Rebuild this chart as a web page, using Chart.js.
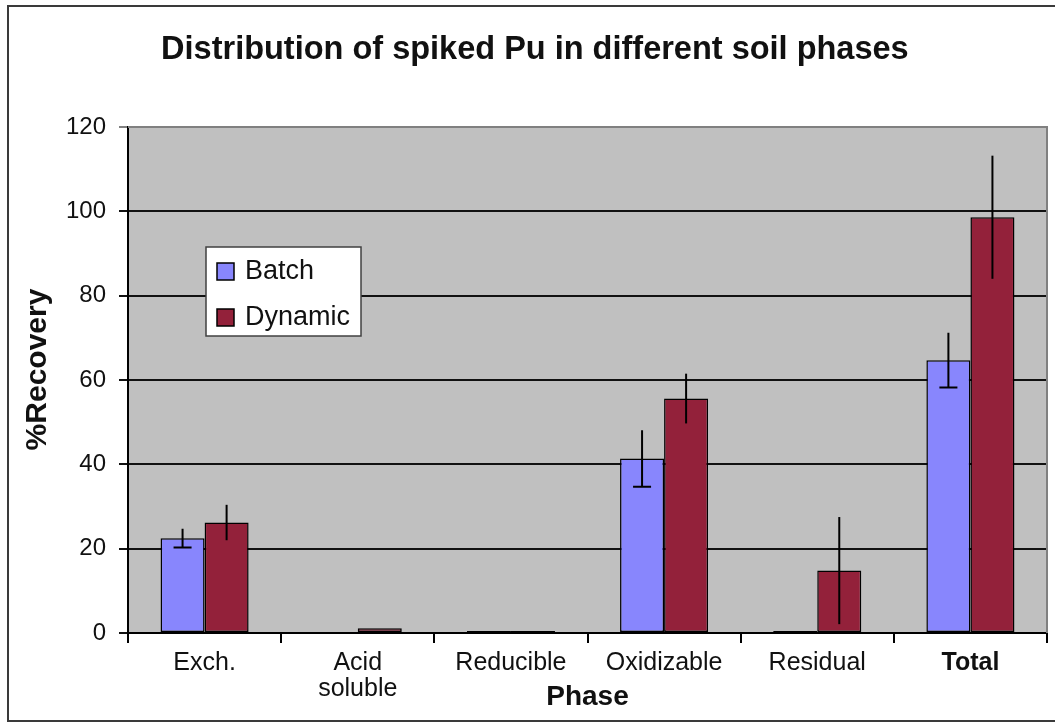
<!DOCTYPE html>
<html>
<head>
<meta charset="utf-8">
<script src="https://cdn.jsdelivr.net/npm/chart.js@4.4.1/dist/chart.umd.min.js"></script>
<style>
  html, body { margin: 0; padding: 0; background: #ffffff; }
  #wrap { width: 1055px; height: 724px; position: relative; }
</style>
</head>
<body>
<div id="wrap"><canvas id="c" width="1055" height="724"></canvas></div>
<script>
// ---- data ----
const categories = ['Exch.', ['Acid', 'soluble'], 'Reducible', 'Oxidizable', 'Residual', 'Total'];
const seriesNames = ['Batch', 'Dynamic'];
const batchValues = [22.5, 0, 0.5, 41.4, 0.5, 64.7];
const dynamicValues = [26.2, 1.1, 0.5, 55.6, 14.8, 98.6];
const batchErrors = [2.2, 0, 0, 6.7, 0, 6.5];
const dynamicErrors = [4.2, 0, 0, 5.9, 12.7, 14.6];
const yTicks = [0, 20, 40, 60, 80, 100, 120];

const FONT = '"Liberation Sans", Arial, Helvetica, sans-serif';
const batchColor = '#8886fd';
const dynamicColor = '#93213a';

const framePlugin = {
  id: 'framePlugin',
  beforeDraw(chart) {
    const { ctx, chartArea: a } = chart;
    ctx.save();
    ctx.fillStyle = '#ffffff';
    ctx.fillRect(0, 0, chart.width, chart.height);
    ctx.strokeStyle = '#3a3a3a';
    ctx.lineWidth = 2;
    ctx.strokeRect(8, 6, chart.width + 10, 715);
    ctx.fillStyle = '#c0c0c0';
    ctx.fillRect(a.left, a.top, a.right - a.left, a.bottom - a.top);
    ctx.restore();
  },
  afterDraw(chart) {
    const { ctx, chartArea: a } = chart;
    ctx.save();
    ctx.strokeStyle = '#808080';
    ctx.lineWidth = 2;
    ctx.beginPath();
    ctx.moveTo(a.left, a.top);
    ctx.lineTo(a.right, a.top);
    ctx.lineTo(a.right, a.bottom);
    ctx.stroke();
    ctx.restore();
  }
};

const errorBarPlugin = {
  id: 'errorBarPlugin',
  afterDatasetsDraw(chart) {
    const { ctx } = chart;
    const y = chart.scales.y;
    const errs = [batchErrors, dynamicErrors];
    ctx.save();
    ctx.strokeStyle = '#000';
    ctx.lineWidth = 2;
    chart.data.datasets.forEach((ds, di) => {
      const meta = chart.getDatasetMeta(di);
      meta.data.forEach((bar, i) => {
        const e = errs[di][i];
        if (!e) return;
        const v = ds.data[i];
        const yTop = y.getPixelForValue(v + e);
        const yBot = y.getPixelForValue(v - e);
        ctx.beginPath();
        ctx.moveTo(bar.x, yTop);
        ctx.lineTo(bar.x, yBot);
        if (di === 0) {
          ctx.moveTo(bar.x - 9, yBot);
          ctx.lineTo(bar.x + 9, yBot);
        }
        ctx.stroke();
      });
    });
    ctx.restore();
  }
};

const boxLegendPlugin = {
  id: 'boxLegendPlugin',
  afterDatasetsDraw(chart) {
    const { ctx, chartArea: a } = chart;
    const x0 = a.left + 78, y0 = a.top + 120, w = 155, h = 89;
    ctx.save();
    ctx.fillStyle = '#ffffff';
    ctx.fillRect(x0, y0, w, h);
    ctx.strokeStyle = '#404040';
    ctx.lineWidth = 1.5;
    ctx.strokeRect(x0, y0, w, h);
    chart.data.datasets.forEach((ds, i) => {
      const cy = y0 + 24 + i * 46;
      ctx.fillStyle = ds.backgroundColor;
      ctx.fillRect(x0 + 11, cy - 8, 17, 17);
      ctx.strokeStyle = '#000';
      ctx.lineWidth = 1.5;
      ctx.strokeRect(x0 + 11, cy - 8, 17, 17);
      ctx.fillStyle = '#111';
      ctx.font = '27px ' + FONT;
      ctx.textBaseline = 'middle';
      ctx.textAlign = 'left';
      ctx.fillText(ds.label, x0 + 39, cy + 1);
    });
    ctx.restore();
  }
};

new Chart(document.getElementById('c'), {
  type: 'bar',
  data: {
    labels: categories,
    datasets: [
      { label: seriesNames[0], data: batchValues, backgroundColor: batchColor },
      { label: seriesNames[1], data: dynamicValues, backgroundColor: dynamicColor }
    ]
  },
  options: {
    responsive: false,
    animation: false,
    devicePixelRatio: 1,
    layout: { padding: { left: 0, right: 8, top: 0, bottom: 0 } },
    datasets: {
      bar: {
        barPercentage: 1,
        categoryPercentage: 0.575,
        borderColor: '#000',
        borderWidth: 1.5,
        borderSkipped: false
      }
    },
    plugins: {
      legend: { display: false },
      tooltip: { enabled: false },
      title: {
        display: true,
        text: '\u2002\u2009Distribution of spiked Pu in different soil phases',
        color: '#111',
        font: { family: FONT, size: 32.5, weight: 'bold', lineHeight: 1.2 },
        padding: { top: 31, bottom: 57 }
      }
    },
    scales: {
      x: {
        grid: { drawOnChartArea: false, drawTicks: true, tickLength: 10, color: '#000', lineWidth: 2, offset: true },
        border: { display: true, color: '#000', width: 2 },
        ticks: {
          color: '#111',
          padding: 7,
          maxRotation: 0,
          autoSkip: false,
          font: (ctx) => ({ family: FONT, size: 25, lineHeight: 1.05, weight: ctx.index === 5 ? 'bold' : 'normal' })
        },
        title: {
          display: true,
          text: 'Phase',
          color: '#111',
          font: { family: FONT, size: 28, weight: 'bold', lineHeight: 1.2 },
          padding: { top: 0, bottom: 10 }
        },
        afterFit(scale) { scale.height = 91; }
      },
      y: {
        min: 0,
        max: 120,
        afterBuildTicks(scale) { scale.ticks = yTicks.map(v => ({ value: v })); },
        grid: {
          drawTicks: true,
          tickLength: 9,
          color: (ctx) => (ctx.tick && ctx.tick.value === 120) ? '#808080' : '#111',
          lineWidth: 2
        },
        border: { display: true, color: '#000', width: 2 },
        ticks: {
          color: '#111',
          padding: 13,
          font: { family: FONT, size: 24 }
        },
        title: {
          display: true,
          text: '\u2002\u2009%Recovery',
          color: '#111',
          font: { family: FONT, size: 30, weight: 'bold', lineHeight: 1.2 },
          padding: { top: 20, bottom: 0 }
        },
        afterFit(scale) { scale.width = 128; }
      }
    }
  },
  plugins: [framePlugin, errorBarPlugin, boxLegendPlugin]
});
</script>
</body>
</html>
